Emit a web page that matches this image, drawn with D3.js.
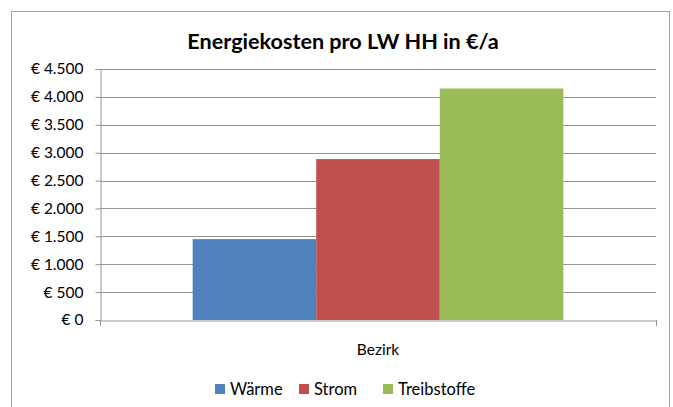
<!DOCTYPE html>
<html><head><meta charset="utf-8">
<script src="https://cdn.jsdelivr.net/npm/d3@7"></script>
<style>body{margin:0;background:#fff;} svg{display:block;font-family:Lato,"Open Sans",sans-serif;}</style>
</head><body>
<script>
const categories = ["Bezirk"];
const seriesNames = ["Wärme", "Strom", "Treibstoffe"];
const seriesValues = [1450, 2885, 4150];
const seriesColors = ["#4F81BD", "#C0504D", "#9BBB59"];
const yTicks = [0, 500, 1000, 1500, 2000, 2500, 3000, 3500, 4000, 4500];
const title = "Energiekosten pro LW HH in €/a";

const W = 673, H = 407;
const m = {left: 100, right: 17, top: 69, bottom: 87};
const svg = d3.select("body").append("svg").attr("width", W).attr("height", H);

svg.append("rect").attr("x", 11.5).attr("y", 11.5).attr("width", 658).attr("height", 400)
  .attr("fill", "#fff").attr("stroke", "#a6a6a6");

svg.append("text").attr("x", 343).attr("y", 49).attr("text-anchor", "middle")
  .attr("font-size", 21.6).attr("font-weight", "bold").attr("fill", "#000").text(title);

const x0 = d3.scaleBand().domain(categories).range([m.left, W - m.right]).paddingInner(0).paddingOuter(0);
const y = d3.scaleLinear().domain([0, 4500]).range([H - m.bottom, m.top]);
const fmt = v => "€ " + d3.format(",")(v).replace(/,/g, ".");

// gridlines
svg.append("g").selectAll("line").data(yTicks.filter(d => d > 0)).join("line")
  .attr("x1", m.left).attr("x2", W - m.right)
  .attr("y1", d => Math.round(y(d)) + 0.5).attr("y2", d => Math.round(y(d)) + 0.5)
  .attr("stroke", "#959595").attr("stroke-width", 1);

// y axis
const yAxis = svg.append("g").attr("transform", `translate(${m.left + 0.5},0)`)
  .call(d3.axisLeft(y).tickValues(yTicks).tickSize(5).tickPadding(12).tickFormat(fmt));
yAxis.select(".domain").attr("stroke", "#959595");
yAxis.selectAll(".tick line").attr("stroke", "#959595");
yAxis.selectAll(".tick text").attr("font-size", 15.5).attr("fill", "#000").attr("font-family", "Lato,'Open Sans',sans-serif");

// bars
const x1 = d3.scaleBand().domain(seriesNames).range([0, x0.bandwidth()]).paddingInner(0).paddingOuter(0.75);
categories.forEach(c => {
  svg.append("g").selectAll("rect").data(seriesNames).join("rect")
    .attr("x", d => x0(c) + x1(d))
    .attr("width", x1.bandwidth())
    .attr("y", (d, i) => y(seriesValues[i]))
    .attr("height", (d, i) => y(0) - y(seriesValues[i]))
    .attr("fill", (d, i) => seriesColors[i]);
});

// x axis
const xAxis = svg.append("g").attr("transform", `translate(0,${Math.round(y(0)) + 0.5})`)
  .call(d3.axisBottom(x0).tickSize(0).tickPadding(23));
xAxis.select(".domain").attr("stroke", "#959595");
xAxis.selectAll(".tick text").attr("font-size", 15.5).attr("fill", "#000").attr("font-family", "Lato,'Open Sans',sans-serif");
[m.left, W - m.right].forEach(px => svg.append("line").attr("x1", px + 0.5).attr("x2", px + 0.5)
  .attr("y1", Math.round(y(0))).attr("y2", Math.round(y(0)) + 6).attr("stroke", "#959595"));

// legend
const legendX = [215, 299, 383];
const lg = svg.append("g");
seriesNames.forEach((s, i) => {
  lg.append("rect").attr("x", legendX[i]).attr("y", 384).attr("width", 10).attr("height", 10).attr("fill", seriesColors[i]);
  lg.append("text").attr("x", legendX[i] + 15).attr("y", 395).attr("font-size", 16.5).attr("fill", "#000").text(s);
});
</script>
</body></html>
